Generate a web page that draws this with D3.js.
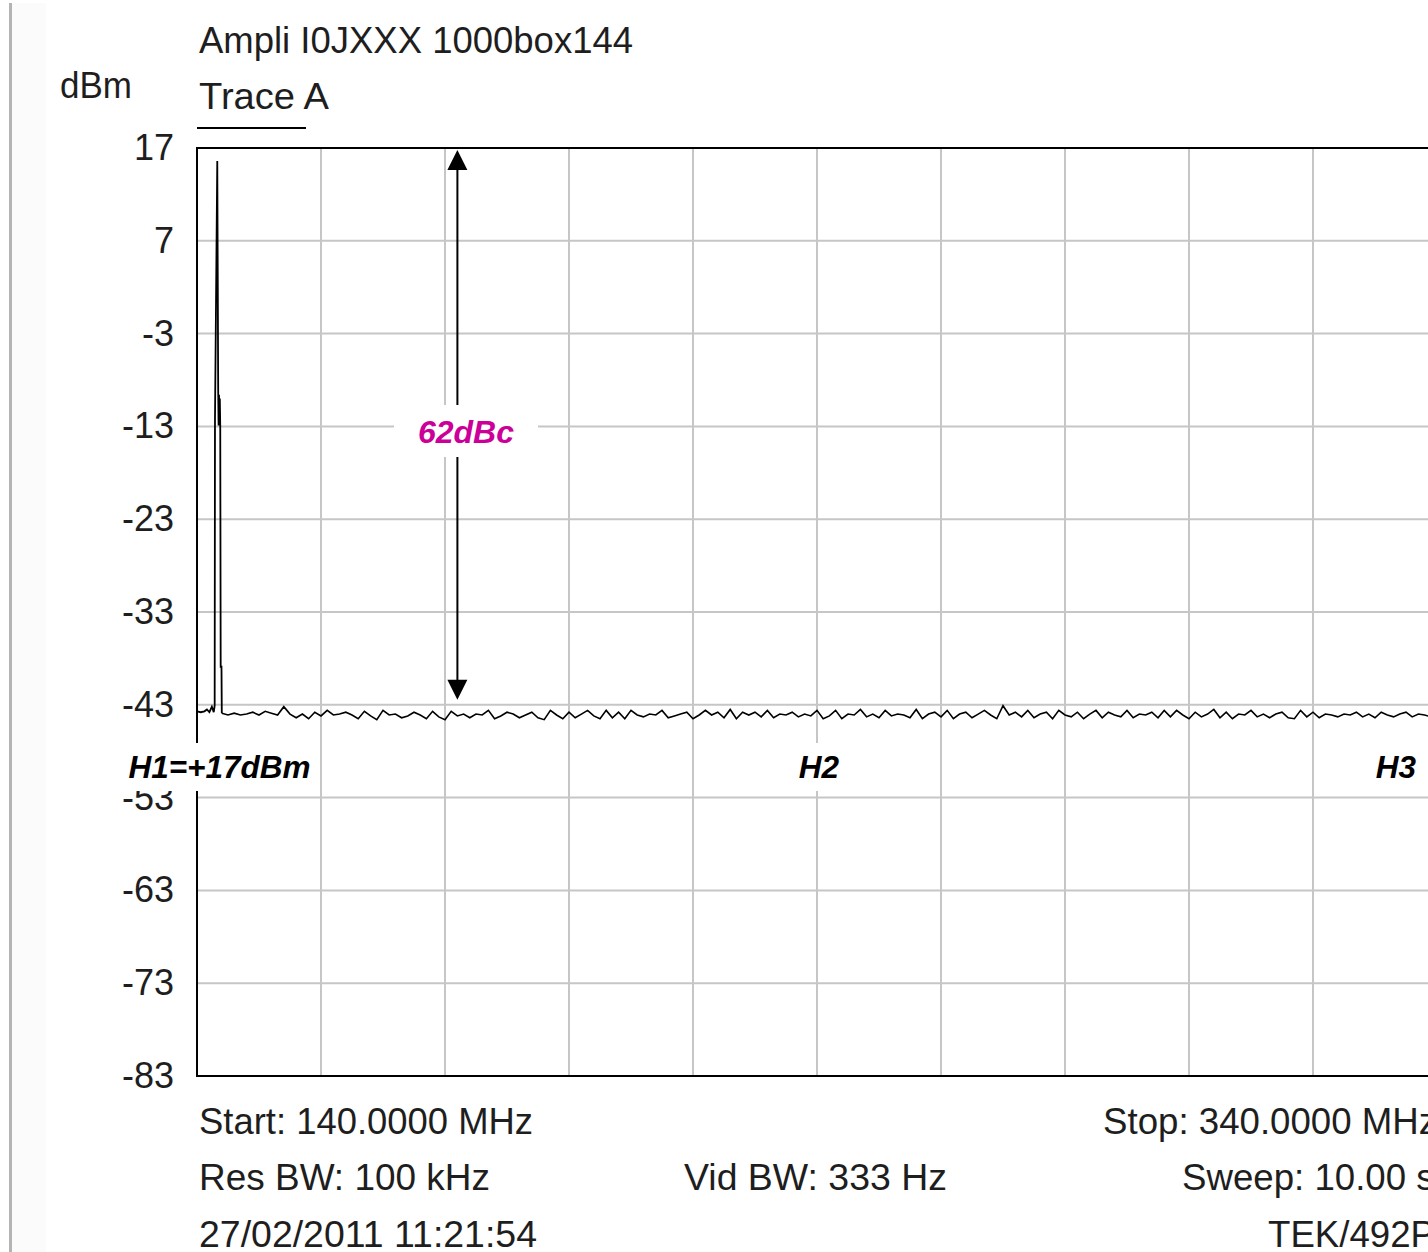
<!DOCTYPE html>
<html>
<head>
<meta charset="utf-8">
<script src="https://cdn.jsdelivr.net/npm/d3@7"></script>
<style>
  html, body { margin: 0; padding: 0; background: #ffffff; }
  svg { display: block; }
  text { font-family: "Liberation Sans", Arial, sans-serif; }
</style>
</head>
<body>
<script>
// ---------------- DATA ----------------
const freqRange = [140, 340];              // MHz (Start / Stop)
const levelRange = [-83, 17];              // dBm
const yTicks = [17, 7, -3, -13, -23, -33, -43, -53, -63, -73, -83];
const xGrid = [140, 160, 180, 200, 220, 240, 260, 280, 300, 320, 340];

// carrier region (MHz, dBm)
const peakFreqs  = [140.0, 140.6, 141.2, 141.6, 142.0, 142.4, 142.7, 142.85, 142.9, 143.27, 143.42, 143.48, 143.55, 143.62, 143.68, 143.75, 143.82, 143.95, 144.0];
const peakLevels = [-43.7, -43.8, -43.7, -43.5, -43.8, -43.2, -43.8, -43.1, -12.4, 15.6, -9.3, -12.9, -9.6, -12.8, -10.0, -13.0, -38.9, -38.9, -43.9];

// noise floor, 1 MHz steps from 144 MHz to 340 MHz
const noiseStart = 144;
const noiseLevels = [
  -43.9,-44.1,-43.9,-44.1,-44.0,-43.8,-44.1,-43.7,-43.9,-44.1,
  -43.2,-44.0,-44.4,-44.0,-44.5,-43.8,-44.2,-43.6,-44.1,-44.0,
  -43.8,-44.1,-44.5,-43.7,-44.2,-44.6,-43.6,-44.1,-44.0,-44.4,
  -44.2,-43.8,-44.1,-44.5,-43.7,-44.3,-44.6,-43.7,-44.2,-44.0,
  -44.4,-44.0,-44.1,-43.6,-44.5,-44.2,-43.8,-44.0,-44.4,-44.1,
  -43.8,-44.4,-44.6,-43.6,-44.1,-44.5,-43.8,-44.4,-44.0,-43.6,
  -44.2,-44.5,-43.6,-44.4,-43.8,-44.5,-43.6,-44.1,-44.3,-44.0,
  -44.1,-43.6,-44.4,-44.2,-44.0,-43.8,-44.5,-44.1,-43.6,-44.1,
  -43.8,-44.4,-43.5,-44.5,-43.8,-44.1,-43.8,-44.3,-43.6,-44.4,
  -44.0,-44.1,-43.8,-44.3,-44.0,-44.2,-43.6,-44.5,-44.2,-43.6,
  -44.5,-44.0,-44.1,-43.5,-44.3,-44.0,-44.4,-43.6,-44.2,-44.0,
  -44.1,-44.4,-43.5,-44.5,-44.0,-43.8,-44.3,-43.6,-44.5,-44.0,
  -43.8,-44.4,-44.0,-43.6,-44.1,-44.5,-43.1,-44.1,-43.8,-44.3,
  -43.6,-44.4,-44.0,-43.8,-44.5,-43.6,-44.1,-44.3,-43.8,-44.5,
  -44.0,-43.6,-44.4,-43.8,-44.1,-44.3,-43.6,-44.4,-44.0,-44.1,
  -43.8,-44.4,-43.6,-44.3,-43.6,-44.1,-44.5,-43.8,-44.3,-44.0,
  -43.5,-44.4,-43.8,-44.5,-44.0,-44.1,-43.6,-44.3,-44.0,-44.4,
  -44.0,-43.8,-44.4,-44.5,-43.6,-44.3,-43.8,-44.4,-44.0,-44.1,
  -44.3,-44.0,-44.1,-43.8,-44.3,-44.0,-44.4,-43.8,-44.1,-44.3,
  -44.0,-43.8,-44.3,-44.0,-44.1,-44.3,-44.0
];

// 62 dBc measurement arrow (MHz, from / to dBm)
const markerFreq = 182;
const markerFrom = 17;
const markerTo = -43;
const markerLabel = "62dBc";

const harmonicLabels = ["H1=+17dBm", "H2", "H3"];
const headerLines = ["Ampli I0JXXX 1000box144", "Trace A"];
const unitLabel = "dBm";
const footer = {
  start: "Start: 140.0000 MHz", stop: "Stop: 340.0000 MHz",
  rbw: "Res BW: 100 kHz", vbw: "Vid BW: 333 Hz", sweep: "Sweep: 10.00 s",
  date: "27/02/2011 11:21:54", model: "TEK/492P"
};

// ---------------- CHART ----------------
const W = 1428, H = 1252;
const svg = d3.select("body").append("svg").attr("width", W).attr("height", H);

const x = d3.scaleLinear().domain(freqRange).range([197, 1437]);
const y = d3.scaleLinear().domain(levelRange).range([1076, 148]);

const textColor = "#1e1e1e";

// page margin line
svg.append("rect").attr("x", 12).attr("y", 3).attr("width", 34).attr("height", H).attr("fill", "#fbfbfb");
svg.append("line").attr("x1", 10.5).attr("x2", 10.5).attr("y1", 3).attr("y2", H)
  .attr("stroke", "#b4b4b4").attr("stroke-width", 3);

// grid
const grid = svg.append("g");
grid.selectAll("line.h").data(yTicks).join("line")
  .attr("x1", x(freqRange[0])).attr("x2", x(freqRange[1]))
  .attr("y1", d => y(d)).attr("y2", d => y(d))
  .attr("stroke", "#c6c6c6").attr("stroke-width", 2);
grid.selectAll("line.v").data(xGrid).join("line")
  .attr("x1", d => x(d)).attr("x2", d => x(d))
  .attr("y1", y(levelRange[1])).attr("y2", y(levelRange[0]))
  .attr("stroke", "#c6c6c6").attr("stroke-width", 2);

// frame
svg.append("rect")
  .attr("x", x(freqRange[0])).attr("y", y(levelRange[1]))
  .attr("width", x(freqRange[1]) - x(freqRange[0]))
  .attr("height", y(levelRange[0]) - y(levelRange[1]))
  .attr("fill", "none").attr("stroke", "#000").attr("stroke-width", 2);

// y axis labels
const yAxis = d3.axisLeft(y).tickValues(yTicks).tickSize(0).tickPadding(23)
  .tickFormat(d => String(d));
const ga = svg.append("g").attr("transform", `translate(${x(freqRange[0])},0)`).call(yAxis);
ga.select(".domain").remove();
ga.selectAll("text").attr("font-size", 36).attr("fill", textColor)
  .attr("font-family", "'Liberation Sans', Arial, sans-serif");

// trace
const peakData = peakFreqs.map((f, i) => [f, peakLevels[i]]);
const noiseData = noiseLevels.map((v, i) => [noiseStart + i, v]);
const lineLin = d3.line().x(d => x(d[0])).y(d => y(d[1]));
svg.append("path").attr("d", lineLin(peakData))
  .attr("fill", "none").attr("stroke", "#000").attr("stroke-width", 1.8);
svg.append("path").attr("d", lineLin(noiseData))
  .attr("fill", "none").attr("stroke", "#000").attr("stroke-width", 1.6)
  .attr("stroke-linejoin", "miter");

// marker arrow
const ax = x(markerFreq);
const yTop = y(markerFrom) + 2, yBot = y(markerTo) - 5;
svg.append("line").attr("x1", ax).attr("x2", ax).attr("y1", yTop + 18).attr("y2", yBot - 18)
  .attr("stroke", "#000").attr("stroke-width", 2);
svg.append("path").attr("d", `M${ax},${yTop} L${ax - 10},${yTop + 20} L${ax + 10},${yTop + 20} Z`).attr("fill", "#000");
svg.append("path").attr("d", `M${ax},${yBot} L${ax - 10},${yBot - 20} L${ax + 10},${yBot - 20} Z`).attr("fill", "#000");

// label boxes
function boxLabel(cx, cy, bw, bh, txt, color, size) {
  svg.append("rect").attr("x", cx - bw / 2).attr("y", cy - bh / 2).attr("width", bw).attr("height", bh).attr("fill", "#fff");
  svg.append("text").attr("x", cx).attr("y", cy).attr("dy", "0.36em")
    .attr("text-anchor", "middle").attr("font-size", size)
    .attr("font-weight", "bold").attr("font-style", "italic")
    .attr("fill", color).text(txt);
}
boxLabel(466, 431, 144, 52, markerLabel, "#cc0099", 32);
boxLabel(219.5, 767, 200, 48, harmonicLabels[0], "#000", 31.5);
boxLabel(819, 767, 50, 48, harmonicLabels[1], "#000", 31.5);
boxLabel(1396, 767, 50, 48, harmonicLabels[2], "#000", 31.5);

// header / footer texts
function txt(xp, yp, s, len) {
  const t = svg.append("text").attr("x", xp).attr("y", yp).attr("font-size", 36)
    .attr("fill", textColor).text(s);
  const natural = t.node().getComputedTextLength();
  t.attr("textLength", len || natural * 1.018).attr("lengthAdjust", "spacingAndGlyphs");
  return t;
}
txt(199, 53, headerLines[0], 434);
txt(199, 109, headerLines[1], 130);
txt(60, 98, unitLabel, 72);
svg.append("line").attr("x1", 197).attr("x2", 306).attr("y1", 128).attr("y2", 128)
  .attr("stroke", "#000").attr("stroke-width", 2);

txt(199, 1134, footer.start, 334);
txt(1103, 1134, footer.stop);
txt(199, 1190, footer.rbw, 291);
txt(684, 1190, footer.vbw, 263);
txt(1182, 1190, footer.sweep);
txt(199, 1247, footer.date, 338);
txt(1268, 1247, footer.model);
</script>
</body>
</html>
